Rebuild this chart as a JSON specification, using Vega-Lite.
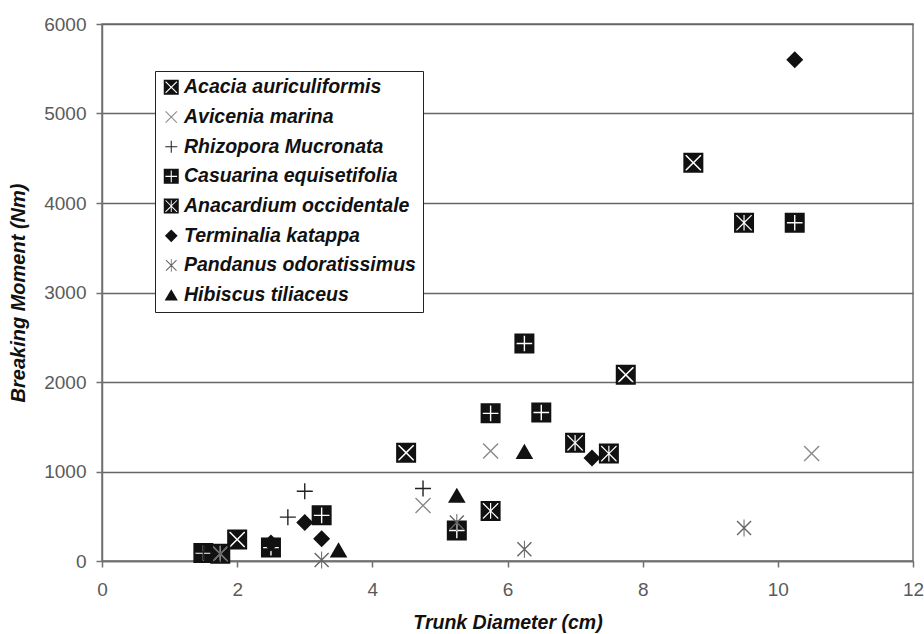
{
  "$schema": "https://vega.github.io/schema/vega-lite/v6.json",
  "width": 811,
  "height": 537,
  "autosize": {"type": "none"},
  "padding": {"left": 102, "top": 24, "right": 11, "bottom": 73},
  "background": "white",
  "config": {
    "view": {"stroke": "#707070", "strokeWidth": 1.5},
    "font": "Liberation Sans"
  },
  "data": {
    "values": [
      {"species": "Terminalia katappa", "diameter": 2.5, "moment": 200},
      {"species": "Acacia auriculiformis", "diameter": 4.5, "moment": 1210},
      {"species": "Acacia auriculiformis", "diameter": 8.75, "moment": 4450},
      {"species": "Acacia auriculiformis", "diameter": 7.75, "moment": 2080},
      {"species": "Acacia auriculiformis", "diameter": 2.0, "moment": 240},
      {"species": "Avicenia marina", "diameter": 10.5, "moment": 1200},
      {"species": "Avicenia marina", "diameter": 5.75, "moment": 1230},
      {"species": "Avicenia marina", "diameter": 4.75, "moment": 620},
      {"species": "Rhizopora Mucronata", "diameter": 3.0, "moment": 780},
      {"species": "Rhizopora Mucronata", "diameter": 2.75, "moment": 490},
      {"species": "Rhizopora Mucronata", "diameter": 4.75, "moment": 810},
      {"species": "Rhizopora Mucronata", "diameter": 1.5, "moment": 100},
      {"species": "Casuarina equisetifolia", "diameter": 10.25, "moment": 3780},
      {"species": "Casuarina equisetifolia", "diameter": 6.25, "moment": 2430},
      {"species": "Casuarina equisetifolia", "diameter": 5.75, "moment": 1650},
      {"species": "Casuarina equisetifolia", "diameter": 6.5, "moment": 1660},
      {"species": "Casuarina equisetifolia", "diameter": 3.25, "moment": 510},
      {"species": "Casuarina equisetifolia", "diameter": 5.25, "moment": 340},
      {"species": "Casuarina equisetifolia", "diameter": 2.5, "moment": 150},
      {"species": "Casuarina equisetifolia", "diameter": 1.5, "moment": 90},
      {"species": "Anacardium occidentale", "diameter": 9.5, "moment": 3780},
      {"species": "Anacardium occidentale", "diameter": 7.0, "moment": 1320},
      {"species": "Anacardium occidentale", "diameter": 7.5, "moment": 1200},
      {"species": "Anacardium occidentale", "diameter": 5.75, "moment": 560},
      {"species": "Anacardium occidentale", "diameter": 1.75, "moment": 80},
      {"species": "Terminalia katappa", "diameter": 10.25, "moment": 5600},
      {"species": "Terminalia katappa", "diameter": 7.25, "moment": 1150},
      {"species": "Terminalia katappa", "diameter": 3.0, "moment": 430},
      {"species": "Terminalia katappa", "diameter": 3.25, "moment": 250},
      {"species": "Pandanus odoratissimus", "diameter": 9.5, "moment": 370},
      {"species": "Pandanus odoratissimus", "diameter": 6.25, "moment": 130},
      {"species": "Pandanus odoratissimus", "diameter": 3.25, "moment": 10},
      {"species": "Pandanus odoratissimus", "diameter": 5.25, "moment": 430},
      {"species": "Pandanus odoratissimus", "diameter": 1.75, "moment": 80},
      {"species": "Hibiscus tiliaceus", "diameter": 6.25, "moment": 1220},
      {"species": "Hibiscus tiliaceus", "diameter": 5.25, "moment": 730},
      {"species": "Hibiscus tiliaceus", "diameter": 3.5, "moment": 120}
    ]
  },
  "mark": {"type": "point", "filled": true, "opacity": 1, "size": 400, "strokeWidth": 0},
  "encoding": {
    "x": {
      "field": "diameter",
      "type": "quantitative",
      "scale": {"domain": [0, 12], "nice": false},
      "axis": {
        "values": [0, 2, 4, 6, 8, 10, 12],
        "grid": false,
        "title": "Trunk Diameter (cm)",
        "titleFont": "Liberation Sans",
        "titleFontSize": 19.5,
        "titleFontStyle": "italic",
        "titleFontWeight": "bold",
        "titleColor": "#111",
        "titlePadding": 14,
        "labelFont": "Liberation Sans",
        "labelFontSize": 19,
        "labelColor": "#5a5a5a",
        "labelPadding": 13,
        "labelFlush": false,
        "labelOverlap": false,
        "domainColor": "#707070",
        "domainWidth": 1.5,
        "tickColor": "#707070",
        "tickWidth": 1.5,
        "tickSize": 6
      }
    },
    "y": {
      "field": "moment",
      "type": "quantitative",
      "scale": {"domain": [0, 6000], "nice": false},
      "axis": {
        "values": [0, 1000, 2000, 3000, 4000, 5000, 6000],
        "format": "d",
        "grid": true,
        "gridColor": "#666666",
        "gridWidth": 1.5,
        "title": "Breaking Moment (Nm)",
        "titleFont": "Liberation Sans",
        "titleFontSize": 20,
        "titleFontStyle": "italic",
        "titleFontWeight": "bold",
        "titleColor": "#111",
        "titlePadding": 15,
        "labelFont": "Liberation Sans",
        "labelFontSize": 19,
        "labelColor": "#5a5a5a",
        "labelPadding": 10,
        "domainColor": "#707070",
        "domainWidth": 1.5,
        "tickColor": "#707070",
        "tickWidth": 1.5,
        "tickSize": 6
      }
    },
    "shape": {
      "field": "species",
      "type": "nominal",
      "scale": {
        "domain": ["Acacia auriculiformis", "Avicenia marina", "Rhizopora Mucronata", "Casuarina equisetifolia", "Anacardium occidentale", "Terminalia katappa", "Pandanus odoratissimus", "Hibiscus tiliaceus"],
        "range": [
          "M-1,-1H1V1H-1Z M-0.78,-0.78V0.78H0.78V-0.78Z M-0.67,-0.78L0.67,-0.78L0,-0.11Z M0.78,-0.67L0.78,0.67L0.11,0Z M0.67,0.78L-0.67,0.78L0,0.11Z M-0.78,0.67L-0.78,-0.67L-0.11,0Z",
          "M-0.7,-0.8L0.8,0.7L0.7,0.8L-0.8,-0.7Z M0.8,-0.7L-0.7,0.8L-0.8,0.7L0.7,-0.8Z",
          "M-0.8,-0.07H0.8V0.07H-0.8Z M-0.07,-0.8H0.07V0.8H-0.07Z",
          "M-1,-1H1V1H-1Z M-0.78,-0.78V0.78H0.78V-0.78Z M-0.78,-0.78H-0.07V-0.07H-0.78Z M0.07,-0.78H0.78V-0.07H0.07Z M0.07,0.07H0.78V0.78H0.07Z M-0.78,0.07H-0.07V0.78H-0.78Z",
          "M-1,-1H1V1H-1Z M-0.78,-0.78V0.78H0.78V-0.78Z M0.06,-0.78L0.695,-0.78L0.06,-0.145Z M0.78,-0.695L0.78,0.695L0.085,0Z M0.06,0.145L0.695,0.78L0.06,0.78Z M-0.06,0.145L-0.06,0.78L-0.695,0.78Z M-0.78,0.695L-0.78,-0.695L-0.085,0Z M-0.06,-0.145L-0.695,-0.78L-0.06,-0.78Z",
          "M0,-0.85L0.85,0L0,0.85L-0.85,0Z",
          "M-0.65,-0.75L0.75,0.65L0.65,0.75L-0.75,-0.65Z M0.75,-0.65L-0.65,0.75L-0.75,0.65L0.65,-0.75Z M-0.05,-0.85H0.05V0.85H-0.05Z",
          "M0,-0.8L0.88,0.72L-0.88,0.72Z"
        ]
      },
      "legend": {
        "title": null,
        "orient": "none",
        "legendX": 53,
        "legendY": 47,
        "strokeColor": "#222",
        "fillColor": "white",
        "padding": 6.5,
        "symbolSize": 225,
        "symbolStrokeWidth": 0,
        "labelFont": "Liberation Sans",
        "labelFontSize": 19.5,
        "labelFontStyle": "italic",
        "labelFontWeight": "bold",
        "labelColor": "#111",
        "labelOffset": 3,
        "labelLimit": 400,
        "rowPadding": 8.7
      }
    },
    "fill": {
      "field": "species",
      "type": "nominal",
      "scale": {
        "domain": ["Acacia auriculiformis", "Avicenia marina", "Rhizopora Mucronata", "Casuarina equisetifolia", "Anacardium occidentale", "Terminalia katappa", "Pandanus odoratissimus", "Hibiscus tiliaceus"],
        "range": ["#111111", "#8a8a8a", "#222222", "#111111", "#111111", "#111111", "#666666", "#111111"]
      },
      "legend": {
        "title": null,
        "orient": "none",
        "legendX": 53,
        "legendY": 47,
        "strokeColor": "#222",
        "fillColor": "white",
        "padding": 6.5,
        "symbolSize": 225,
        "symbolStrokeWidth": 0,
        "labelFont": "Liberation Sans",
        "labelFontSize": 19.5,
        "labelFontStyle": "italic",
        "labelFontWeight": "bold",
        "labelColor": "#111",
        "labelOffset": 3,
        "labelLimit": 400,
        "rowPadding": 8.7
      }
    }
  }
}
